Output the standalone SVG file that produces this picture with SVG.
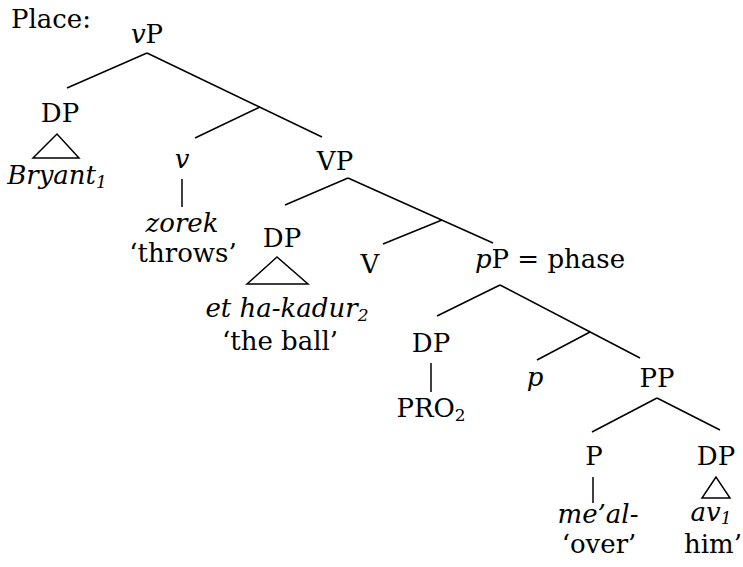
<svg xmlns="http://www.w3.org/2000/svg" width="743" height="567" viewBox="0 0 743 567">
  <style>
    text { font-family: "DejaVu Serif", serif; font-size: 26px; fill: #000; text-anchor: middle; }
    .l { text-anchor: start; }
    .i { font-style: italic; }
    .sub { font-size: 17px; }
    .edge { stroke: #000; stroke-width: 1.5; fill: none; stroke-linecap: butt; }
    .tri { stroke: #000; stroke-width: 1.5; fill: none; stroke-linejoin: miter; }
  </style>
  <rect width="743" height="567" fill="#fff"/>

  <text id="title" class="l" x="11" y="28">Place:</text>

  <g id="connectors">
    <!-- vP -->
    <line class="edge" x1="147" y1="53" x2="67" y2="88"/>
    <line class="edge" x1="147" y1="53" x2="322" y2="137"/>
    <line class="edge" x1="260" y1="107" x2="195" y2="138"/>
    <!-- v to zorek -->
    <line class="edge" x1="182" y1="179" x2="182" y2="207"/>
    <!-- VP -->
    <line class="edge" x1="348" y1="178" x2="285" y2="205"/>
    <line class="edge" x1="348" y1="178" x2="493" y2="243"/>
    <line class="edge" x1="442" y1="220" x2="383" y2="244"/>
    <!-- pP -->
    <line class="edge" x1="500" y1="285" x2="437" y2="316"/>
    <line class="edge" x1="500" y1="285" x2="640" y2="358"/>
    <line class="edge" x1="590" y1="332" x2="537" y2="360"/>
    <!-- DP to PRO -->
    <line class="edge" x1="431" y1="363" x2="431" y2="392"/>
    <!-- PP -->
    <line class="edge" x1="657" y1="398" x2="592" y2="432"/>
    <line class="edge" x1="657" y1="398" x2="720" y2="430"/>
    <!-- P to me'al -->
    <line class="edge" x1="593" y1="477" x2="593" y2="503"/>
  </g>

  <g id="node-vP">
    <text x="147" y="43"><tspan class="i">v</tspan>P</text>
  </g>

  <g id="node-DP-subject">
    <text x="60" y="122">DP</text>
    <polygon class="tri" points="57,134 33,158 79,158"/>
    <text x="57" y="184"><tspan class="i">Bryant</tspan><tspan class="i sub" dy="4">1</tspan></text>
  </g>

  <g id="node-v">
    <text class="i" x="182" y="168">v</text>
    <text class="i" x="182" y="232">zorek</text>
    <text x="183" y="262">‘throws’</text>
  </g>

  <g id="node-VP">
    <text x="335" y="170">VP</text>
  </g>

  <g id="node-DP-object">
    <text x="282" y="247">DP</text>
    <polygon class="tri" points="277,257 247,284 308,284"/>
    <text x="287" y="317"><tspan class="i">et ha-kadur</tspan><tspan class="i sub" dy="4">2</tspan></text>
    <text x="280" y="350">‘the ball’</text>
  </g>

  <g id="node-V">
    <text x="370" y="273">V</text>
  </g>

  <g id="node-pP">
    <text x="550" y="268"><tspan class="i">p</tspan>P = phase</text>
  </g>

  <g id="node-DP-PRO">
    <text x="431" y="352">DP</text>
    <text x="431" y="417">PRO<tspan class="sub" dy="4">2</tspan></text>
  </g>

  <g id="node-p">
    <text class="i" x="535" y="386">p</text>
  </g>

  <g id="node-PP">
    <text x="657" y="387">PP</text>
  </g>

  <g id="node-P">
    <text x="594" y="465">P</text>
    <text class="i" x="598" y="523">me’al-</text>
    <text x="599" y="553">‘over’</text>
  </g>

  <g id="node-DP-him">
    <text x="716" y="465">DP</text>
    <polygon class="tri" points="716,477 702,498 730,498"/>
    <text x="711" y="521"><tspan class="i">av</tspan><tspan class="i sub" dy="3">1</tspan></text>
    <text x="713" y="553">him’</text>
  </g>
</svg>
